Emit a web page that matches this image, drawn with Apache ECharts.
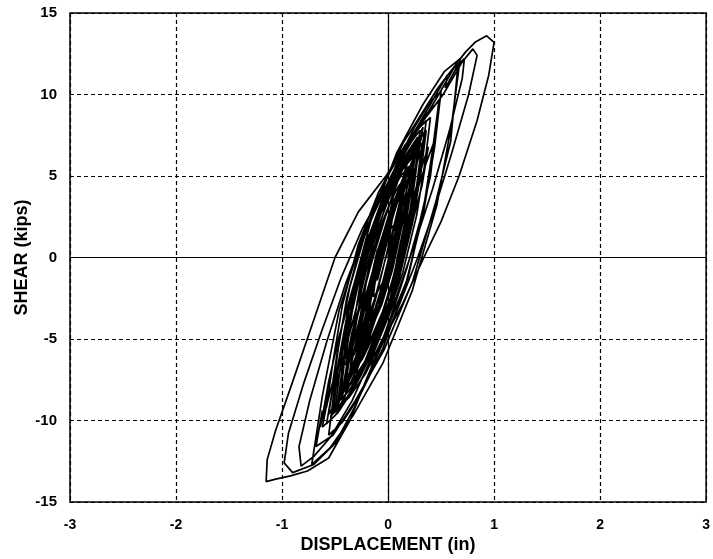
<!DOCTYPE html>
<html>
<head>
<meta charset="utf-8">
<script src="https://cdn.jsdelivr.net/npm/echarts@6/dist/echarts.min.js"></script>
<style>
html,body{margin:0;padding:0;background:#fff;}
#chart{width:713px;height:559px;}
</style>
</head>
<body>
<div id="chart"></div>
<script>
// Tick values
var xTicks = [-3, -2, -1, 0, 1, 2, 3];
var yTicks = [-15, -10, -5, 0, 5, 10, 15];

// Hysteresis trace: displacement (in), in time order (one line per half cycle / segment)
var displacement = [
  0.00, 0.05, 0.10, 0.14,
  0.12, 0.04, -0.09, -0.18,
  -0.16, -0.12, -0.05, 0.03, 0.11, 0.17, 0.22,
  0.19, 0.14, 0.05, -0.05, -0.15, -0.24, -0.30,
  -0.26, -0.20, -0.11, 0.01, 0.13, 0.23, 0.30,
  0.26, 0.19, 0.08, -0.06, -0.20, -0.32, -0.40,
  -0.35, -0.26, -0.11, 0.07, 0.25, 0.39, 0.50,
  0.44, 0.33, 0.16, -0.05, -0.26, -0.43, -0.56,
  -0.49, -0.36, -0.16, 0.08, 0.33, 0.53, 0.68,
  0.60, 0.46, 0.23, -0.05, -0.33, -0.55, -0.72,
  -0.62, -0.46, -0.19, 0.14, 0.47, 0.73, 0.82, 0.93, 1.00,
  0.95, 0.84, 0.67, 0.50, 0.33, 0.14, -0.04, -0.20, -0.36, -0.56, -0.76, -0.92, -1.06, -1.15,
  -1.14, -1.06, -0.92, -0.72, -0.50, -0.28, -0.02, 0.24, 0.52, 0.70, 0.80, 0.84,
  0.76, 0.60, 0.44, 0.28, 0.10, -0.10, -0.30, -0.50, -0.70, -0.90, -0.98,
  -0.94, -0.80, -0.62, -0.44, -0.24, 0.00, 0.22, 0.46, 0.62, 0.72,
  0.70, 0.58, 0.42, 0.26, 0.08, -0.12, -0.34, -0.54, -0.70, -0.82, -0.84,
  -0.74, -0.58, -0.40, -0.20, 0.02, 0.22, 0.40, 0.56, 0.54, 0.66,
  0.59, 0.45, 0.23, -0.04, -0.31, -0.52, -0.68,
  -0.62, -0.64, -0.56, -0.58,
  -0.52, -0.43, -0.28, -0.09, 0.10, 0.25, 0.36,
  0.30, 0.21, 0.06, -0.13, -0.32, -0.47, -0.58,
  -0.50, -0.52,
  -0.47, -0.39, -0.26, -0.09, 0.07, 0.20, 0.30,
  0.25, 0.18, 0.06, -0.10, -0.25, -0.37, -0.46,
  -0.42, -0.34, -0.23, -0.08, 0.06, 0.17, 0.26,
  0.22, 0.15, 0.04, -0.10, -0.24, -0.36, -0.44,
  -0.40, -0.33, -0.22, -0.09, 0.05, 0.16, 0.24,
  0.20, 0.14, 0.05, -0.07, -0.19, -0.29, -0.36,
  -0.32, -0.25, -0.14, 0.00, 0.13, 0.24, 0.32,
  0.27, 0.19, 0.06, -0.10, -0.26, -0.38, -0.48,
  -0.42, -0.33, -0.17, 0.02, 0.21, 0.36, 0.48,
  0.42, 0.33, 0.19, -0.03, -0.21, -0.37, -0.50,
  -0.45, -0.37, -0.23, -0.06, 0.10, 0.24, 0.34,
  0.28, 0.19, 0.05, -0.16, -0.35, -0.50, -0.62,
  -0.56, -0.60, -0.52,
  -0.46, -0.36, -0.20, -0.02, 0.16, 0.30, 0.40,
  0.35, 0.27, 0.14, -0.02, -0.18, -0.30, -0.40,
  -0.36, -0.29, -0.18, -0.05, 0.09, 0.20, 0.28,
  0.24, 0.16, 0.02, -0.14, -0.30, -0.42, -0.52,
  -0.47, -0.38, -0.24, -0.06, 0.11, 0.25, 0.36,
  0.31, 0.23, 0.10, -0.06, -0.22, -0.34, -0.44,
  -0.30, -0.22, -0.10, -0.13, -0.18, -0.14, -0.02, 0.10, 0.16, 0.12,
  0.04, -0.08, -0.22, -0.30, -0.26, -0.14, -0.02, 0.04, 0.00, -0.12,
  -0.26, -0.38, -0.44, -0.38, -0.28, -0.16, -0.02, 0.12, 0.22, 0.28,
  0.24, 0.16, 0.06, -0.06, 0.00, 0.10, 0.20, 0.30, 0.34, 0.28,
  0.18, 0.04, -0.10, -0.22, -0.34, -0.42, -0.36, -0.28, -0.32, -0.22,
  -0.08, 0.06, 0.18, 0.14, 0.06, 0.14, 0.24, 0.30, 0.33, 0.26,
  0.16, 0.02, -0.14, -0.28, -0.40, -0.48, -0.42, -0.44, -0.36, -0.24,
  -0.10, 0.04, 0.00, -0.10, -0.04, 0.08, 0.18, 0.26, 0.20, 0.08,
  -0.06, -0.20, -0.34, -0.46, -0.54, -0.50, -0.40, -0.28, -0.14, 0.00,
  0.12, 0.20, 0.14, 0.02, -0.12, -0.26, -0.20, -0.08, 0.06, 0.18,
  0.26, 0.20, 0.08, -0.06, -0.18, -0.30, -0.24, -0.14, -0.02, 0.10,
  0.16, 0.10, 0.00, -0.10, -0.20,
  -0.34, -0.46, -0.56, -0.52, -0.44, -0.34, -0.38, -0.48, -0.58, -0.62,
  -0.56, -0.46, -0.32, -0.18, -0.24, -0.34, -0.28, -0.14, 0.00, 0.10,
  0.04, -0.06, -0.18, -0.30, -0.40, -0.34, -0.22, -0.08, 0.06, 0.20,
  0.30, 0.26, 0.18, 0.10, 0.04, 0.12, 0.24, 0.36, 0.44, 0.40,
  0.30, 0.18, 0.06, -0.06, -0.16, -0.10, 0.00, 0.12, 0.22, 0.32,
  0.38, 0.32, 0.20, 0.06, -0.08, -0.22, -0.32, -0.26, -0.16, -0.30,
  -0.40, -0.34, -0.24, -0.11, 0.02, 0.12, 0.20,
  0.17, 0.12, 0.04, -0.06, -0.16, -0.24, -0.30,
  -0.27, -0.23, -0.15, -0.06, 0.03, 0.10, 0.16,
  0.14, 0.10, 0.04, -0.04, -0.12, -0.18, -0.22,
  -0.20, -0.16, -0.10, -0.03, 0.04, 0.10, 0.14,
  0.12, 0.09, 0.03, -0.04, -0.10, -0.14,
  -0.12, -0.08, -0.02, 0.03, 0.06
];
// Shear (kips), matching displacement line by line
var shear = [
  0.0, 1.6, 2.9, 3.6,
  2.4, -0.7, -3.0, -3.9,
  -2.4, -0.5, 1.4, 3.1, 4.3, 5.0, 5.4,
  3.5, 1.2, -1.2, -3.3, -4.8, -5.7, -6.2,
  -4.0, -1.2, 1.8, 4.3, 6.1, 7.2, 7.8,
  5.3, 2.1, -1.3, -4.1, -6.2, -7.4, -8.1,
  -5.2, -1.5, 2.3, 5.6, 8.0, 9.5, 10.2,
  6.8, 2.6, -1.8, -5.6, -8.4, -10.1, -10.9,
  -7.2, -2.6, 2.3, 6.4, 9.4, 11.4, 12.2,
  8.2, 3.2, -2.0, -6.5, -9.7, -11.7, -12.7,
  -8.5, -3.2, 2.3, 7.0, 10.4, 12.6, 13.2, 13.6, 13.2,
  11.2, 8.4, 5.0, 2.2, -0.1, -2.8, -5.0, -7.4, -10.0, -12.3, -13.1, -13.4, -13.6, -13.75,
  -12.4, -10.6, -8.0, -4.2, 0.0, 2.8, 5.0, 7.6, 10.0, 12.0, 12.8, 12.4,
  10.0, 6.4, 3.0, 0.0, -3.0, -6.0, -9.0, -11.4, -12.7, -13.2, -12.6,
  -10.8, -7.8, -4.4, -1.2, 1.8, 4.6, 7.2, 9.8, 11.6, 12.2,
  11.0, 7.8, 4.2, 1.0, -2.4, -5.6, -8.8, -11.0, -12.2, -12.8, -11.6,
  -8.8, -5.2, -1.6, 1.8, 4.8, 7.4, 9.4, 11.2, 10.4, 11.8,
  7.1, 3.4, -1.5, -5.7, -8.8, -10.9, -11.6,
  -9.4, -10.4, -8.2, -9.2,
  -6.4, -2.9, 0.8, 4.0, 6.3, 7.7, 8.4,
  5.4, 1.7, -2.2, -5.6, -8.0, -9.5, -10.2,
  -7.2, -8.0,
  -5.6, -2.5, 0.7, 3.4, 5.4, 6.6, 7.2,
  4.6, 1.4, -1.9, -4.8, -6.9, -8.2, -8.8,
  -6.3, -3.3, 0.0, 2.8, 4.8, 6.0, 6.6,
  4.3, 1.3, -1.7, -4.3, -6.2, -7.4, -8.0,
  -5.7, -2.9, 0.1, 2.6, 4.5, 5.6, 6.2,
  4.1, 1.4, -1.3, -3.7, -5.4, -6.5, -7.0,
  -4.8, -2.0, 1.0, 3.5, 5.3, 6.4, 7.0,
  4.4, 1.2, -2.2, -5.1, -7.3, -8.6, -9.2,
  -6.2, -2.4, 1.5, 4.9, 7.3, 8.8, 9.6,
  6.6, 2.8, -1.2, -4.7, -7.1, -8.6, -9.4,
  -6.7, -3.3, 0.3, 3.4, 5.6, 6.9, 7.6,
  4.7, 1.3, -2.7, -5.9, -8.2, -9.7, -10.4,
  -8.4, -9.6, -7.6,
  -5.0, -1.8, 1.8, 4.8, 6.9, 8.0, 8.6,
  5.9, 2.6, -0.9, -3.9, -6.0, -7.3, -8.0,
  -5.6, -2.7, 0.4, 3.1, 5.0, 6.2, 6.8,
  4.2, 1.0, -2.5, -5.3, -7.6, -9.0, -9.6,
  -6.8, -3.4, 0.3, 3.4, 5.7, 7.1, 7.8,
  5.2, 2.1, -1.4, -4.1, -6.4, -7.7, -8.4,
  -6.0, -3.0, 0.5, -1.2, -3.2, -1.4, 1.8, 4.2, 5.2, 3.0,
  0.4, -2.4, -5.4, -6.8, -4.8, -1.6, 1.4, 2.4, 0.6, -2.6,
  -5.6, -7.6, -8.6, -6.2, -3.4, -0.4, 2.6, 5.2, 6.8, 7.4,
  5.6, 3.0, 0.4, -2.4, -0.6, 1.8, 4.2, 6.4, 7.0, 4.6,
  1.6, -1.6, -4.4, -6.4, -8.2, -9.0, -7.0, -4.4, -6.0, -3.2,
  0.2, 3.2, 5.4, 3.6, 1.6, 3.8, 6.0, 7.6, 8.0, 5.4,
  2.6, -0.8, -4.0, -6.6, -8.4, -9.4, -7.6, -8.6, -6.2, -3.0,
  0.2, 3.0, 1.2, -1.4, 0.4, 3.4, 5.8, 7.0, 4.8, 1.6,
  -1.8, -4.8, -7.2, -8.8, -9.8, -8.2, -5.6, -2.6, 0.8, 3.6,
  5.6, 6.6, 4.2, 1.0, -2.4, -5.2, -3.4, -0.4, 2.8, 5.2,
  6.4, 4.0, 0.8, -2.6, -5.0, -7.0, -4.8, -2.0, 1.0, 3.8,
  4.6, 2.4, -0.2, -2.8, -4.6,
  -7.0, -8.6, -9.6, -8.0, -5.8, -3.0, -4.6, -7.0, -8.8, -9.8,
  -7.6, -4.8, -1.6, 1.4, -0.6, -3.2, -1.4, 1.6, 4.0, 5.6,
  3.4, 0.8, -2.0, -4.6, -6.6, -4.6, -1.8, 1.4, 4.2, 6.4,
  7.4, 5.4, 2.8, 0.4, -1.6, 0.6, 3.4, 5.8, 7.2, 5.0,
  2.2, -0.6, -3.0, -5.2, -6.8, -4.8, -2.4, 0.6, 3.2, 5.6,
  6.8, 4.4, 1.4, -1.8, -4.4, -6.6, -8.0, -5.8, -3.2, -5.6,
  -6.2, -3.4, -0.4, 2.1, 3.9, 5.0, 5.6,
  3.8, 1.6, -0.8, -2.9, -4.4, -5.3, -5.8,
  -4.1, -2.0, 0.2, 2.1, 3.5, 4.4, 4.8,
  3.4, 1.6, -0.3, -2.0, -3.1, -3.8, -4.2,
  -2.9, -1.3, 0.4, 1.8, 2.9, 3.5, 3.8,
  2.8, 1.4, -0.1, -1.4, -2.1, -2.4,
  -1.4, 0.0, 1.2, 1.8, 2.0
];

var points = displacement.map(function (d, i) { return [d, shear[i]]; });

var FONT = '"Liberation Sans", Arial, Helvetica, sans-serif';
var chart = echarts.init(document.getElementById('chart'), null, {renderer: 'canvas'});
chart.setOption({
  animation: false,
  backgroundColor: '#ffffff',
  grid: {
    left: 70, right: 1, top: 13, bottom: 57,
    show: true, borderColor: '#000', borderWidth: 1.5, backgroundColor: 'transparent'
  },
  xAxis: {
    type: 'value',
    min: xTicks[0], max: xTicks[xTicks.length - 1], interval: 1,
    name: 'DISPLACEMENT (in)',
    nameLocation: 'middle', nameGap: 34, nameMoveOverlap: false,
    nameTextStyle: {fontFamily: FONT, fontWeight: 'bold', fontSize: 18, color: '#000'},
    axisLine: {show: false},
    axisTick: {show: false},
    axisLabel: {fontFamily: FONT, fontWeight: 'bold', fontSize: 14, color: '#000', margin: 16},
    splitLine: {show: true, lineStyle: {color: '#000', type: [4, 3], width: 1.2}}
  },
  yAxis: {
    type: 'value',
    min: yTicks[0], max: yTicks[yTicks.length - 1], interval: 5,
    name: 'SHEAR (kips)',
    nameLocation: 'middle', nameGap: 39, nameMoveOverlap: false,
    nameTextStyle: {fontFamily: FONT, fontWeight: 'bold', fontSize: 18, color: '#000'},
    axisLine: {show: false},
    axisTick: {show: false},
    axisLabel: {fontFamily: FONT, fontWeight: 'bold', fontSize: 15, color: '#000', margin: 13},
    splitLine: {show: true, lineStyle: {color: '#000', type: [4, 3], width: 1.2}}
  },
  series: [{
    type: 'line',
    data: points,
    showSymbol: false,
    symbol: 'none',
    smooth: false,
    lineStyle: {color: '#000', width: 1.7},
    markLine: {
      silent: true,
      symbol: 'none',
      label: {show: false},
      lineStyle: {color: '#000', type: 'solid', width: 1.2},
      data: [{xAxis: 0}, {yAxis: 0}]
    },
    z: 5
  }]
});
</script>
</body>
</html>
